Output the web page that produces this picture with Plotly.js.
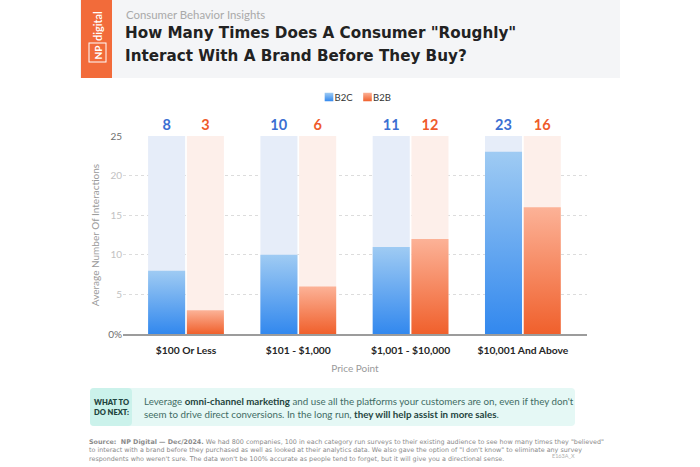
<!DOCTYPE html>
<html>
<head>
<meta charset="utf-8">
<script src="https://cdn.plot.ly/plotly-3.0.1.min.js"></script>
<style>
  html, body { margin: 0; padding: 0; background: #ffffff; }
  #chart { width: 700px; height: 467px; }
</style>
</head>
<body>
<div id="chart"></div>
<script>
// Price bands and the average number of interactions before purchase
const categories = ['$100 Or Less', '$101 - $1,000', '$1,001 - $10,000', '$10,001 And Above'];
const b2c = [8, 10, 11, 23];
const b2b = [3, 6, 12, 16];
const seriesNames = ['B2C', 'B2B'];
const yTickVals = [0, 5, 10, 15, 20, 25];
const yTickText = ['0%', '5', '10', '15', '20', '25'];
const yMax = 25;

// Plot area in page pixels
const L = 123, R = 587, T = 136, B = 334;
const W = 700, H = 467;
const px = x => (x - L) / (R - L);
const py = y => (B - y) / (B - T);

const FONT = 'Lato, "Open Sans", sans-serif';
const WIDE = '"DejaVu Sans", Lato, sans-serif';
const BLUE_LABEL = '#3b6fd2';
const ORANGE_LABEL = '#ef5b2b';

// Bar placement inside each category slot (category units)
const BAR_W = 0.33;
const OFF_1 = -0.3375;
const OFF_2 = 0.0075;

const track = categories.map(() => yMax);

const traces = [
  {
    type: 'bar', x: categories, y: track, width: BAR_W, offset: OFF_1,
    marker: { color: '#e6edf9' }, showlegend: false, hoverinfo: 'skip',
    text: b2c.map(String), textposition: 'outside', cliponaxis: false,
    textfont: { family: FONT, size: 14.5, color: BLUE_LABEL, weight: 700 }
  },
  {
    type: 'bar', x: categories, y: track, width: BAR_W, offset: OFF_2,
    marker: { color: '#fdefea' }, showlegend: false, hoverinfo: 'skip',
    text: b2b.map(String), textposition: 'outside', cliponaxis: false,
    textfont: { family: FONT, size: 14.5, color: ORANGE_LABEL, weight: 700 }
  },
  {
    type: 'bar', name: seriesNames[0], x: categories, y: b2c, width: BAR_W, offset: OFF_1,
    marker: { color: '#62a6f1' }, textposition: 'none'
  },
  {
    type: 'bar', name: seriesNames[1], x: categories, y: b2b, width: BAR_W, offset: OFF_2,
    marker: { color: '#f5875c' }, textposition: 'none'
  }
];

// Rounded rectangle path in paper coordinates from pixel corners
function roundRect(x0, y0, x1, y1, r) {
  const pts = [
    ['M', x0 + r, y0], ['L', x1 - r, y0], ['Q', x1, y0, x1, y0 + r],
    ['L', x1, y1 - r], ['Q', x1, y1, x1 - r, y1], ['L', x0 + r, y1],
    ['Q', x0, y1, x0, y1 - r], ['L', x0, y0 + r], ['Q', x0, y0, x0 + r, y0]
  ];
  return pts.map(p => {
    const c = [];
    for (let i = 1; i < p.length; i += 2) c.push(px(p[i]) + ',' + py(p[i + 1]));
    return p[0] + ' ' + c.join(' ');
  }).join(' ') + ' Z';
}

const shapes = [
  { type: 'rect', xref: 'paper', yref: 'paper', x0: px(80), x1: px(620), y0: py(0), y1: py(78),
    fillcolor: '#f4f5f7', line: { width: 0 }, layer: 'below' },
  { type: 'rect', xref: 'paper', yref: 'paper', x0: px(81), x1: px(112), y0: py(0), y1: py(78),
    fillcolor: '#f26b3a', line: { width: 0 }, layer: 'below' },
  { type: 'path', xref: 'paper', yref: 'paper', path: roundRect(90, 388, 575, 426, 4),
    fillcolor: '#e5f8f5', line: { width: 0 }, layer: 'below' },
  { type: 'path', xref: 'paper', yref: 'paper', path: roundRect(90, 388, 132, 426, 4),
    fillcolor: '#cbf2eb', line: { width: 0 }, layer: 'below' }
];

function note(text, x, y, font, opts) {
  return Object.assign({
    xref: 'paper', yref: 'paper', x: px(x), y: py(y), text: text, showarrow: false,
    xanchor: 'left', yanchor: 'middle', font: font
  }, opts || {});
}

const TEAL = '#3f6c64';
const TEAL_DARK = '#1f4540';
const SRC = '#8a8a8a';

const annotations = [
  note('Consumer Behavior Insights', 124, 15, { family: FONT, size: 11.4, color: '#a9a9a9' }),
  note('How Many Times Does A Consumer "Roughly"', 123, 33.5, { family: WIDE, size: 15.2, color: '#222222', weight: 700 }),
  note('Interact With A Brand Before They Buy?', 123, 55.5, { family: WIDE, size: 15.2, color: '#222222', weight: 700 }),
  note('digital', 97, 26, { family: FONT, size: 11, color: '#ffffff', weight: 600 }, { xanchor: 'center', textangle: -90 }),
  note('NP', 97.5, 53, { family: FONT, size: 10, color: '#ffffff', weight: 700 },
    { xanchor: 'center', textangle: -90, bordercolor: '#ffffff', borderwidth: 1, borderpad: 2 }),
  note('WHAT TO<br>DO NEXT:', 111, 407, { family: FONT, size: 7.5, color: TEAL_DARK, weight: 800 }, { xanchor: 'center' }),
  note('Leverage <b style="color:' + TEAL_DARK + '">omni-channel marketing</b> and use all the platforms your customers are on, even if they don\'t<br>' +
       'seem to drive direct conversions. In the long run, <b style="color:' + TEAL_DARK + '">they will help assist in more sales</b>.',
    142, 407.5, { family: FONT, size: 9.75, color: TEAL }, { align: 'left' }),
  note('<b>Source:  NP Digital — Dec/2024.</b> We had 800 companies, 100 in each category run surveys to their existing audience to see how many times they "believed"<br>' +
       'to interact with a brand before they purchased as well as looked at their analytics data. We also gave the option of "I don\'t know" to eliminate any survey<br>' +
       'respondents who weren\'t sure. The data won\'t be 100% accurate as people tend to forget, but it will give you a directional sense.',
    87, 450, { family: WIDE, size: 6.4, color: SRC }, { align: 'left' }),
  note('E163A_X', 550, 456, { family: FONT, size: 5.5, color: '#b0b0b0' })
];

const layout = {
  width: W, height: H,
  margin: { l: L, r: W - R, t: T, b: H - B, pad: 0 },
  paper_bgcolor: '#ffffff', plot_bgcolor: 'rgba(0,0,0,0)',
  font: { family: FONT, color: '#333333' },
  barmode: 'overlay',
  showlegend: true,
  legend: {
    orientation: 'h', x: 0.5, xanchor: 'center', y: py(97), yanchor: 'middle',
    font: { family: FONT, size: 9.5, color: '#333333' }, traceorder: 'normal',
    itemwidth: 30, bgcolor: 'rgba(0,0,0,0)'
  },
  xaxis: {
    type: 'category', range: [-0.561, 3.571], fixedrange: true,
    showgrid: false, zeroline: false,
    showline: true, linecolor: '#9c9c9c', linewidth: 1.5,
    ticks: '', ticklabelstandoff: 6,
    tickfont: { family: FONT, size: 10.3, color: '#262626', weight: 700 },
    title: { text: 'Price Point', font: { family: FONT, size: 10, color: '#9a9a9a' }, standoff: 10 },
    automargin: false
  },
  yaxis: {
    range: [0, yMax], fixedrange: true,
    tickvals: yTickVals,
    ticktext: yTickText.map((t, i) => (i === 0 || i === yTickText.length - 1)
      ? '<span style="color:#6e6e6e">' + t + '</span>'
      : '<span style="color:#c2c2c2">' + t + '</span>'),
    tickfont: { family: FONT, size: 10, color: '#c2c2c2' },
    ticks: '', showline: false, zeroline: false,
    showgrid: true, gridcolor: '#dcdcdc', griddash: 'dot', gridwidth: 1,
    title: { text: 'Average Number Of Interactions', font: { family: FONT, size: 10, color: '#9a9a9a' }, standoff: 6 },
    automargin: false
  },
  shapes: shapes,
  annotations: annotations
};

// Vertical colour ramps for the value bars (lighter at the top)
const ramps = {
  rampB2C: ['#9fcbf3', '#3288ee'],
  rampB2B: ['#fcb297', '#f0602c']
};

function addRamps(gd) {
  const NS = 'http://www.w3.org/2000/svg';
  const svg = gd.querySelector('svg.main-svg');
  let defs = svg.querySelector('defs');
  if (!defs) { defs = document.createElementNS(NS, 'defs'); svg.insertBefore(defs, svg.firstChild); }
  Object.keys(ramps).forEach(id => {
    const g = document.createElementNS(NS, 'linearGradient');
    g.setAttribute('id', id);
    g.setAttribute('x1', '0'); g.setAttribute('y1', '0');
    g.setAttribute('x2', '0'); g.setAttribute('y2', '1');
    ramps[id].forEach((c, i) => {
      const s = document.createElementNS(NS, 'stop');
      s.setAttribute('offset', i === 0 ? '0%' : '100%');
      s.setAttribute('stop-color', c);
      g.appendChild(s);
    });
    defs.appendChild(g);
  });
  const ids = ['rampB2C', 'rampB2B'];
  const barTraces = gd.querySelectorAll('.barlayer .trace');
  [2, 3].forEach((ti, k) => {
    if (!barTraces[ti]) return;
    barTraces[ti].querySelectorAll('path').forEach(p => { p.style.fill = 'url(#' + ids[k] + ')'; });
  });
  gd.querySelectorAll('.legend .traces').forEach((t, k) => {
    t.querySelectorAll('.legendpoints path').forEach(p => { p.style.fill = 'url(#' + ids[k] + ')'; });
  });
}

function shiftBy(el, dx) {
  const m = /translate\(\s*([-\d.eE]+)[ ,]*([-\d.eE]*)\s*\)/.exec(el.getAttribute('transform') || '');
  const tx = m ? parseFloat(m[1]) : 0;
  const ty = m && m[2] !== '' ? parseFloat(m[2]) : 0;
  el.setAttribute('transform', 'translate(' + (tx + dx) + ',' + ty + ')');
}

// Compact legend: small swatch with the label set close beside it
const swatchCenters = [329, 367.5];
const labelLefts = [334.5, 373];
function tightenLegend(gd) {
  const items = gd.querySelectorAll('.legend .traces');
  items.forEach((item, k) => {
    const sym = item.querySelector('.legendpoints path');
    const txt = item.querySelector('text.legendtext');
    if (sym) sym.setAttribute('transform', 'scale(0.72)');
    const sb = sym.getBoundingClientRect();
    shiftBy(item, swatchCenters[k] - (sb.left + sb.width / 2));
    if (txt) {
      const tb = txt.getBoundingClientRect();
      const g = document.createElementNS('http://www.w3.org/2000/svg', 'g');
      txt.parentNode.insertBefore(g, txt);
      g.appendChild(txt);
      g.setAttribute('transform', 'translate(' + (labelLefts[k] - tb.left) + ',0)');
    }
  });
}

const gd = document.getElementById('chart');
Plotly.newPlot(gd, traces, layout, { displayModeBar: false, staticPlot: true }).then(() => {
  addRamps(gd);
  tightenLegend(gd);
});
</script>
</body>
</html>
